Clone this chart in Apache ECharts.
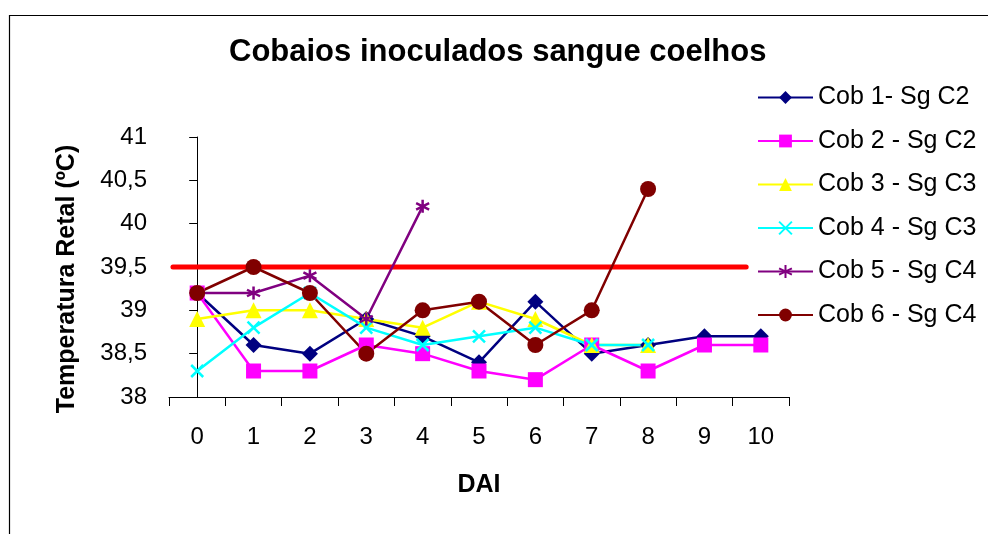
<!DOCTYPE html>
<html>
<head>
<meta charset="utf-8">
<script src="https://cdn.jsdelivr.net/npm/echarts@6/dist/echarts.min.js"></script>
<style>
  html, body { margin: 0; padding: 0; background: #fff; }
  #chart { width: 988px; height: 534px; }
</style>
</head>
<body>
<div id="chart"></div>
<script>
  // DAI (days after inoculation)
  const days = ['0', '1', '2', '3', '4', '5', '6', '7', '8', '9', '10']
  const seriesNames = ['Cob 1- Sg C2', 'Cob 2 - Sg C2', 'Cob 3 - Sg C3', 'Cob 4 - Sg C3', 'Cob 5 - Sg C4', 'Cob 6 - Sg C4']
  const cob1 = [39.2, 38.6, 38.5, 38.9, 38.7, 38.4, 39.1, 38.5, 38.6, 38.7, 38.7]
  const cob2 = [39.2, 38.3, 38.3, 38.6, 38.5, 38.3, 38.2, 38.6, 38.3, 38.6, 38.6]
  const cob3 = [38.9, 39.0, 39.0, 38.9, 38.8, 39.1, 38.9, 38.6, 38.6]
  const cob4 = [38.3, 38.8, 39.2, 38.8, 38.6, 38.7, 38.8, 38.6, 38.6]
  const cob5 = [39.2, 39.2, 39.4, 38.9, 40.2]
  const cob6 = [39.2, 39.5, 39.2, 38.5, 39.0, 39.1, 38.6, 39.0, 40.4]
  // fever threshold line and its horizontal extent (in category units)
  const threshold = 39.5
  const thresholdSpan = [-0.43, 9.74]

  const font = 'Liberation Sans, Arial, sans-serif'
  const crossPath = 'path://M0,0L10,10M10,0L0,10'
  const starPath = 'path://M5,0L5,10M0,2.5L10,7.5M0,7.5L10,2.5'

  function cobSeries(name, data, color, symbol, size, stroke) {
    return {
      name: name,
      type: 'line',
      data: data,
      symbol: symbol,
      symbolSize: size,
      showAllSymbol: true,
      lineStyle: {color: color, width: 2.5},
      itemStyle: stroke
        ? {color: color, borderColor: color, borderWidth: 2.5}
        : {color: color, borderWidth: 0},
      z: 3
    }
  }

  const chart = echarts.init(document.getElementById('chart'))
  chart.setOption({
    animation: false,
    backgroundColor: '#fff',
    textStyle: {fontFamily: font},
    graphic: [{
      type: 'rect',
      left: 7, top: 13,
      shape: {width: 1000, height: 600},
      style: {fill: 'none', stroke: '#000', lineWidth: 1.2},
      silent: true
    }],
    title: {
      text: 'Cobaios inoculados sangue coelhos',
      left: 224,
      top: 32,
      textStyle: {fontFamily: font, fontSize: 31, fontWeight: 'bold', color: '#000'}
    },
    legend: {
      data: seriesNames,
      orient: 'vertical',
      left: 752,
      top: 80,
      itemWidth: 55,
      itemHeight: 16,
      itemGap: 18.5,
      textStyle: {fontFamily: font, fontSize: 25, color: '#000'}
    },
    grid: {left: 169, right: 199, top: 137, bottom: 137},
    xAxis: [{
      type: 'category',
      data: days,
      boundaryGap: true,
      name: 'DAI',
      nameLocation: 'middle',
      nameGap: 76,
      nameTextStyle: {fontFamily: font, fontSize: 25, fontWeight: 'bold', color: '#000'},
      axisLine: {lineStyle: {color: '#000', width: 1}},
      axisTick: {show: true, length: 9, inside: false, lineStyle: {color: '#000'}},
      axisLabel: {fontFamily: font, fontSize: 24, color: '#000', margin: 28},
      splitLine: {show: false}
    }, {
      type: 'value',
      min: -0.5,
      max: 10.5,
      show: false
    }],
    yAxis: {
      type: 'value',
      min: 38,
      max: 41,
      interval: 0.5,
      name: 'Temperatura Retal (ºC)',
      nameLocation: 'middle',
      nameGap: 89,
      nameRotate: 90,
      nameTextStyle: {fontFamily: font, fontSize: 25, fontWeight: 'bold', color: '#000', padding: [0, 24, 0, 0]},
      axisLine: {show: true, lineStyle: {color: '#000', width: 1}},
      axisTick: {show: true, length: 8, lineStyle: {color: '#000'}},
      axisLabel: {
        fontFamily: font, fontSize: 24, color: '#000', margin: 22,
        formatter: v => String(v).replace('.', ',')
      },
      splitLine: {show: false}
    },
    series: [
      {
        name: 'limite',
        type: 'line',
        xAxisIndex: 1,
        data: thresholdSpan.map(x => [x, threshold]),
        symbol: 'none',
        lineStyle: {color: '#ff0000', width: 5, cap: 'round'},
        z: 2
      },
      cobSeries(seriesNames[0], cob1, '#000080', 'diamond', 16, false),
      cobSeries(seriesNames[1], cob2, '#ff00ff', 'rect', 15, false),
      cobSeries(seriesNames[2], cob3, '#ffff00', 'triangle', 16, false),
      cobSeries(seriesNames[3], cob4, '#00ffff', crossPath, 12, true),
      cobSeries(seriesNames[4], cob5, '#800080', starPath, 13, true),
      cobSeries(seriesNames[5], cob6, '#800000', 'circle', 16, false)
    ]
  })
</script>
</body>
</html>
